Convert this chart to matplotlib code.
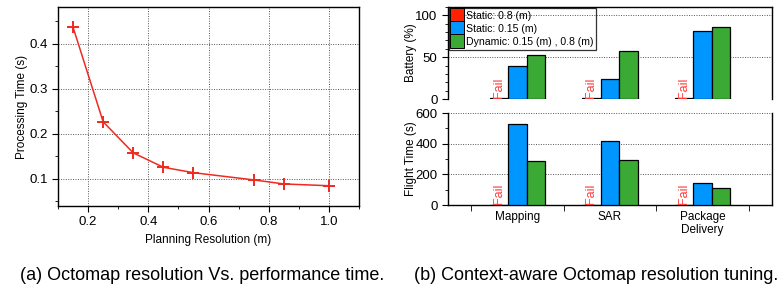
import numpy as np
import matplotlib
matplotlib.use('Agg')
import matplotlib.pyplot as plt
from matplotlib.lines import Line2D
from matplotlib.ticker import MultipleLocator

plt.rcParams['font.family'] = ['Liberation Sans', 'DejaVu Sans']

# (a) planning resolution vs processing time
resolution = [0.15, 0.25, 0.35, 0.45, 0.55, 0.75, 0.85, 1.0]
proc_time = [0.437, 0.227, 0.158, 0.126, 0.114, 0.098, 0.089, 0.085]

# (b) context-aware tuning
tasks = ['Mapping', 'SAR', 'Package\nDelivery']
series = ['Static: 0.8 (m)', 'Static: 0.15 (m)', 'Dynamic: 0.15 (m) , 0.8 (m)']
battery_static08 = [1, 1, 1]
battery_static015 = [39, 24, 81]
battery_dynamic = [53, 57, 86]
flight_static08 = [3, 3, 3]
flight_static015 = [531, 416, 146]
flight_dynamic = [290, 292, 109]
colors = ['#ff2200', '#0096ff', '#3aaa35']
fail_color = '#ff3a3a'

W, H = 780, 300
fig = plt.figure(figsize=(W / 100, H / 100), dpi=100)


def px_axes(x0, y0, x1, y1):
    return fig.add_axes([x0 / W, 1 - y1 / H, (x1 - x0) / W, (y1 - y0) / H])


grid_kw = dict(color='#555555', linestyle=(0, (1, 1.5)), linewidth=0.7)

# ---- left plot ----
ax = px_axes(58, 7, 359, 206)
ax.plot(resolution, proc_time, color='#ee2a22', linewidth=1.1, marker='+',
        markersize=9, markeredgewidth=1.4)
ax.set_xlim(0.1, 1.1)
ax.set_ylim(0.04, 0.482)
ax.xaxis.set_major_locator(MultipleLocator(0.2))
ax.xaxis.set_minor_locator(MultipleLocator(0.1))
ax.yaxis.set_major_locator(MultipleLocator(0.1))
ax.yaxis.set_minor_locator(MultipleLocator(0.05))
ax.set_xticklabels([], minor=True)
ax.tick_params(which='both', direction='out', labelsize=9.5, top=False, right=False)
ax.tick_params(which='major', length=4)
ax.tick_params(which='minor', length=2.5)
ax.grid(True, which='major', **grid_kw)
ax.set_axisbelow(True)
ax.set_xlabel('Planning Resolution (m)', fontsize=8.5, labelpad=4)
ax.set_ylabel('Processing Time (s)', fontsize=8.5, labelpad=1)
ax.xaxis.set_major_formatter(plt.FuncFormatter(lambda v, p: f'{v:.1f}'))

# ---- right plots ----
x = np.arange(1, len(tasks) + 1)
bw = 0.2


def bar_panel(a, vals, ymax, major, minor, ylabel):
    for i, (v, c) in enumerate(zip(vals, colors)):
        a.bar(x + (i - 1) * bw, v, bw, color=c, edgecolor='black', linewidth=0.9, zorder=3)
    for xi in x - bw:
        a.text(xi, ymax * 0.01, 'Fail', rotation=90, color=fail_color, fontsize=9,
               ha='center', va='bottom', zorder=4)
    a.set_xlim(0.25, 3.75)
    a.set_ylim(0, ymax)
    a.yaxis.set_major_locator(MultipleLocator(major))
    a.yaxis.set_minor_locator(MultipleLocator(minor))
    a.grid(True, axis='y', which='major', **grid_kw)
    a.set_axisbelow(True)
    a.tick_params(which='both', direction='out', labelsize=9.5, right=False, top=False)
    a.tick_params(which='major', length=4)
    a.tick_params(which='minor', length=2.5)
    a.set_ylabel(ylabel, fontsize=8.5, labelpad=-1)


ax1 = px_axes(448, 7, 772, 99)
bar_panel(ax1, [battery_static08, battery_static015, battery_dynamic], 110, 50, 10, 'Battery (%)')
ax1.spines['bottom'].set_visible(False)
ax1.tick_params(axis='x', which='both', bottom=False, labelbottom=False)

handles = [Line2D([], [], linestyle='none', marker='s', markersize=10, markerfacecolor=c,
                  markeredgecolor='black', markeredgewidth=0.7) for c in colors]
leg = ax1.legend(handles, series, loc='upper left', bbox_to_anchor=(0.0, 1.0), fontsize=7.6,
                 frameon=True, fancybox=False, edgecolor='black', facecolor='none',
                 handlelength=1.0, handletextpad=0.35, labelspacing=0.3,
                 borderpad=0.25, borderaxespad=0.1)
leg.get_frame().set_linewidth(0.9)

ax2 = px_axes(448, 113, 772, 205)
bar_panel(ax2, [flight_static08, flight_static015, flight_dynamic], 600, 200, 100, 'Flight Time (s)')
ax2.spines['top'].set_visible(False)
ax2.set_xticks(x)
ax2.set_xticklabels(tasks, fontsize=8.5)
ax2.set_xticks(np.arange(0.5, 4.0, 1.0), minor=True)
ax2.tick_params(axis='x', which='major', length=0, pad=4)
ax2.tick_params(axis='x', which='minor', length=4)
ax2.yaxis.set_minor_locator(MultipleLocator(100))

for a in (ax, ax1, ax2):
    for s in a.spines.values():
        s.set_linewidth(1.0)

fig.text(202 / W, 1 - 275 / H, '(a) Octomap resolution Vs. performance time.',
         ha='center', va='center', fontsize=13)
fig.text(596 / W, 1 - 275 / H, '(b) Context-aware Octomap resolution tuning.',
         ha='center', va='center', fontsize=13)

fig.savefig('out.png', dpi=100)
